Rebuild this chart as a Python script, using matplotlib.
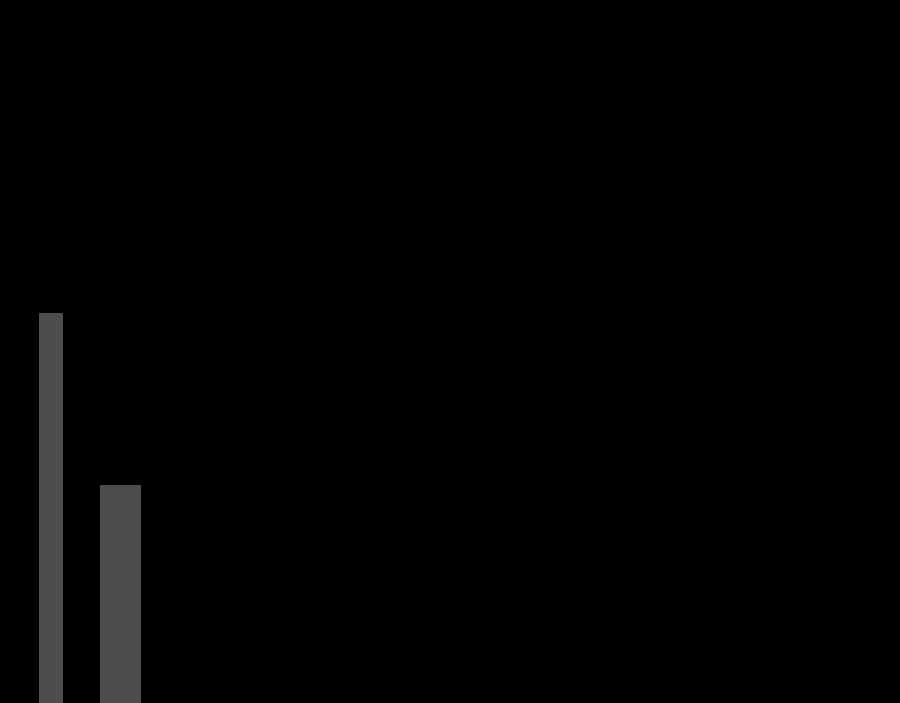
import matplotlib
matplotlib.use("Agg")
import matplotlib.pyplot as plt

# two bars, heights as share of the full figure height
labels = ["A", "B"]
values = [55.5, 31.0]
centers = [50.5, 120.0]
widths = [23, 40]

fig = plt.figure(figsize=(9, 7.03), dpi=100, facecolor="black")
ax = fig.add_axes([0, 0, 1, 1])
ax.set_facecolor("black")

ax.bar(centers, values, width=widths, color="#4d4d4d",
       edgecolor="#555555", linewidth=0.6, align="center")

ax.set_xlim(0, 900)
ax.set_ylim(0, 100)
ax.axis("off")

fig.savefig("out.png", dpi=100, facecolor="black")
